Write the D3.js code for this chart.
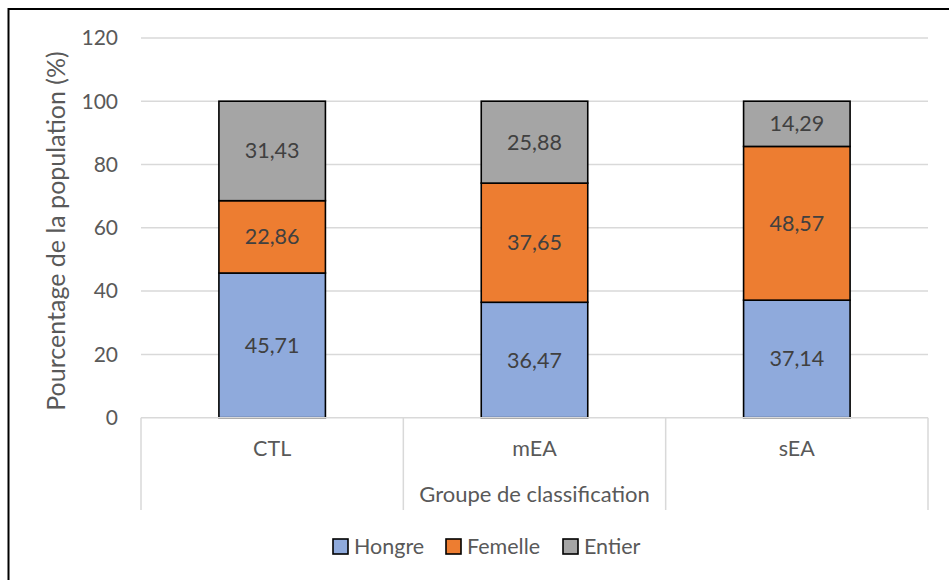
<!DOCTYPE html>
<html><head><meta charset="utf-8">
<script src="https://cdn.jsdelivr.net/npm/d3@7"></script>
<style>
html,body{margin:0;padding:0;background:#fff;}
text{font-family:Lato,"Open Sans",sans-serif;}
</style></head>
<body><svg id="c" width="949" height="580"></svg>
<script>
const categories = ["CTL","mEA","sEA"];
const seriesNames = ["Hongre","Femelle","Entier"];
const hongre = [45.71, 36.47, 37.14];
const femelle = [22.86, 37.65, 48.57];
const entier = [31.43, 25.88, 14.29];
const yTicks = [0,20,40,60,80,100,120];
const colors = ["#8FAADC","#ED7D31","#A5A5A5"];

(function(){
const svg = d3.select("#c");
const pLeft=141, pRight=928, pTop=37.9, pBottom=417.7, sepBottom=510;
const x = d3.scaleBand().domain(categories).range([pLeft,pRight]).paddingInner(0.594).paddingOuter(0.297);
const y = d3.scaleLinear().domain([0,120]).range([pBottom,pTop]);
const fmt = v => d3.format(".2f")(v).replace(".", ",");

// outer border
svg.append("rect").attr("x",8.5).attr("y",9).attr("width",1000).attr("height",1000)
  .attr("fill","none").attr("stroke","#000").attr("stroke-width",2);

// gridlines
svg.append("g").selectAll("line").data(yTicks.filter(d=>d>0)).join("line")
  .attr("x1",pLeft).attr("x2",pRight).attr("y1",d=>y(d)).attr("y2",d=>y(d))
  .attr("stroke","#D9D9D9").attr("stroke-width",1.5);

// y tick labels
svg.append("g").selectAll("text").data(yTicks).join("text")
  .attr("x",118).attr("y",d=>y(d)).attr("dy","0.35em").attr("text-anchor","end")
  .attr("fill","#595959").attr("font-size",21).text(d=>d);

// category separators
const seps = [pLeft].concat(categories.map(c=>x(c)+x.bandwidth()/2+x.step()/2));
svg.append("g").selectAll("line").data(seps).join("line")
  .attr("x1",d=>d).attr("x2",d=>d).attr("y1",pBottom).attr("y2",sepBottom)
  .attr("stroke","#D9D9D9").attr("stroke-width",1.5);

// stacked data
const rows = categories.map((c,i)=>({cat:c, Hongre:hongre[i], Femelle:femelle[i], Entier:entier[i]}));
const stack = d3.stack().keys(seriesNames)(rows);
const g = svg.append("g");
stack.forEach((s,si)=>{
  g.selectAll(null).data(s).join("rect")
    .attr("x",d=>x(d.data.cat)).attr("width",x.bandwidth())
    .attr("y",d=>y(d[1])).attr("height",d=>y(d[0])-y(d[1]))
    .attr("fill",colors[si]).attr("stroke","#000").attr("stroke-width",1.6);
});
stack.forEach((s,si)=>{
  g.selectAll(null).data(s).join("text")
    .attr("x",d=>x(d.data.cat)+x.bandwidth()/2).attr("y",d=>(y(d[0])+y(d[1]))/2)
    .attr("dy","0.35em").attr("text-anchor","middle").attr("fill","#404040").attr("font-size",21.5)
    .text(d=>fmt(d[1]-d[0]));
});
// axis line
svg.append("line").attr("x1",pLeft).attr("x2",pRight).attr("y1",pBottom).attr("y2",pBottom)
  .attr("stroke","#D9D9D9").attr("stroke-width",1.5);

// category labels
svg.append("g").selectAll("text").data(categories).join("text")
  .attr("x",d=>x(d)+x.bandwidth()/2).attr("y",456).attr("text-anchor","middle")
  .attr("fill","#595959").attr("font-size",21.5).text(d=>d);

// axis titles
svg.append("text").attr("x",(pLeft+pRight)/2).attr("y",502).attr("text-anchor","middle")
  .attr("fill","#595959").attr("font-size",22).text("Groupe de classification");
svg.append("text").attr("transform","translate(65,231) rotate(-90)").attr("text-anchor","middle")
  .attr("fill","#595959").attr("font-size",25).text("Pourcentage de la population (%)");

// legend
const legX = [333,446,563];
const lg = svg.append("g").selectAll("g").data(seriesNames).join("g")
  .attr("transform",(d,i)=>`translate(${legX[i]},539)`);
lg.append("rect").attr("width",15).attr("height",15).attr("fill",(d,i)=>colors[i])
  .attr("stroke","#000").attr("stroke-width",1.6);
lg.append("text").attr("x",21).attr("y",14.5).attr("fill","#595959").attr("font-size",21.5).text(d=>d);
})();
</script></body></html>
